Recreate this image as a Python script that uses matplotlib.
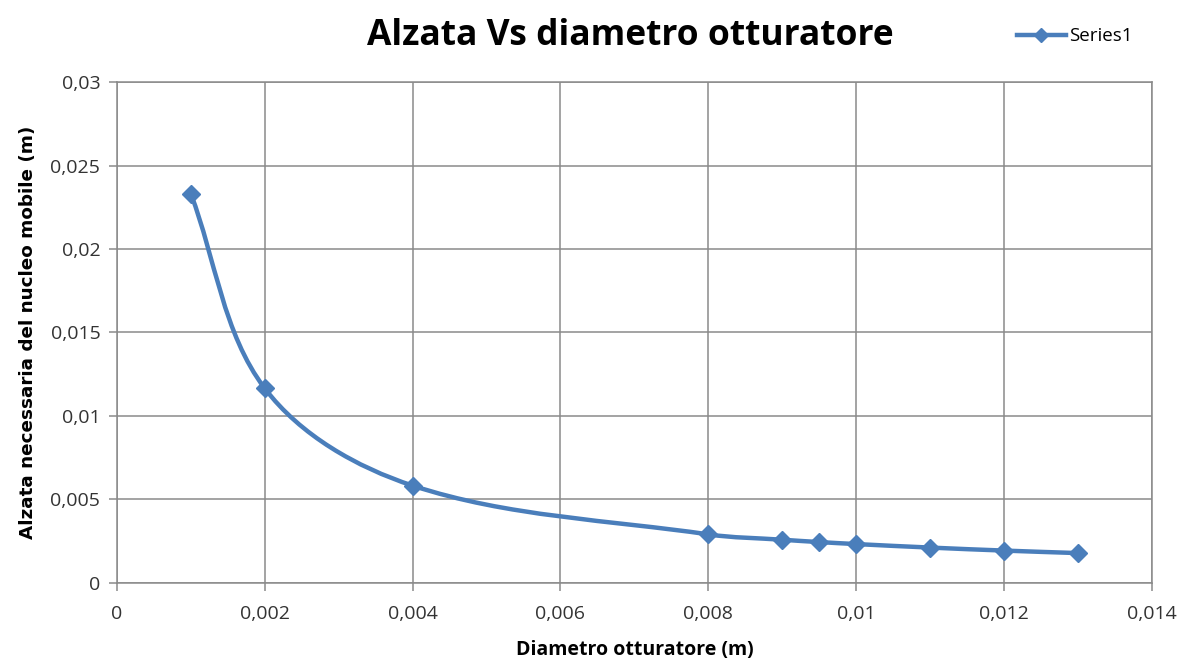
import numpy as np
import matplotlib.pyplot as plt
from matplotlib.path import Path
from matplotlib.patches import PathPatch
from matplotlib.lines import Line2D
from matplotlib.ticker import FuncFormatter

# Data
diametro = [0.001, 0.002, 0.004, 0.008, 0.009, 0.0095, 0.01, 0.011, 0.012, 0.013]
alzata = [0.0233, 0.01165, 0.00583, 0.00291, 0.00259, 0.00245, 0.00233, 0.00212, 0.00194, 0.00179]
xticks = [0, 0.002, 0.004, 0.006, 0.008, 0.01, 0.012, 0.014]
yticks = [0, 0.005, 0.01, 0.015, 0.02, 0.025, 0.03]

blue = '#4a7ebb'
grid = '#8a8a8a'
plt.rcParams['font.family'] = ['Open Sans', 'DejaVu Sans']

fig = plt.figure(figsize=(11.85, 6.63), dpi=100)
ax = fig.add_axes([0.0987, 0.1207, 0.8733, 0.7556])
ax.set_xlim(0, 0.014)
ax.set_ylim(0, 0.03)

# smoothed line (bezier, tangents scaled by chord length in screen space)
pts = np.column_stack([diametro, alzata])
sc = np.array([1035 / 0.014, 501 / 0.03])  # data -> approx pixels
q = pts * sc
d = np.linalg.norm(np.diff(q, axis=0), axis=1)
n = len(q)
tang = np.zeros_like(q)
for i in range(n):
    a = q[max(i - 1, 0)]
    b = q[min(i + 1, n - 1)]
    t = b - a
    tang[i] = t / np.linalg.norm(t)
verts = [pts[0]]
codes = [Path.MOVETO]
for i in range(n - 1):
    c1 = (q[i] + tang[i] * d[i] / 3) / sc
    c2 = (q[i + 1] - tang[i + 1] * d[i] / 3) / sc
    verts += [c1, c2, pts[i + 1]]
    codes += [Path.CURVE4] * 3
ax.add_patch(PathPatch(Path(verts, codes), fc='none', ec=blue, lw=3.2, zorder=3))
ax.plot(diametro, alzata, ls='none', marker='D', ms=9, color=blue, zorder=4)

ax.set_xticks(xticks)
ax.set_yticks(yticks)
fmt = FuncFormatter(lambda v, p: ('%g' % v).replace('.', ','))
ax.xaxis.set_major_formatter(fmt)
ax.yaxis.set_major_formatter(fmt)
ax.grid(True, color=grid, lw=1.1)
ax.set_axisbelow(True)
for s in ax.spines.values():
    s.set_color(grid)
    s.set_linewidth(1.1)
ax.tick_params(axis='both', length=6, width=1.1, color=grid, labelsize=14,
               labelcolor='#333333', pad=6)
ax.tick_params(axis='x', pad=10)

ax.set_xlabel('Diametro otturatore (m)', fontsize=14, fontweight='bold', labelpad=12)
ax.set_ylabel('Alzata necessaria del nucleo mobile (m)', fontsize=13.2,
              fontweight='bold', family=['DejaVu Sans'], labelpad=10)
fig.text(0.532, 0.945, 'Alzata Vs diametro otturatore', ha='center', va='center',
         fontsize=25.5, fontweight='bold')

h = Line2D([], [], color=blue, lw=3.2, marker='D', ms=7)
fig.legend([h], ['Series1'], loc='center left', bbox_to_anchor=(0.844, 0.945),
           frameon=False, fontsize=13.5, handlelength=2.6, handletextpad=0.2)

fig.savefig('out.png', dpi=100)
